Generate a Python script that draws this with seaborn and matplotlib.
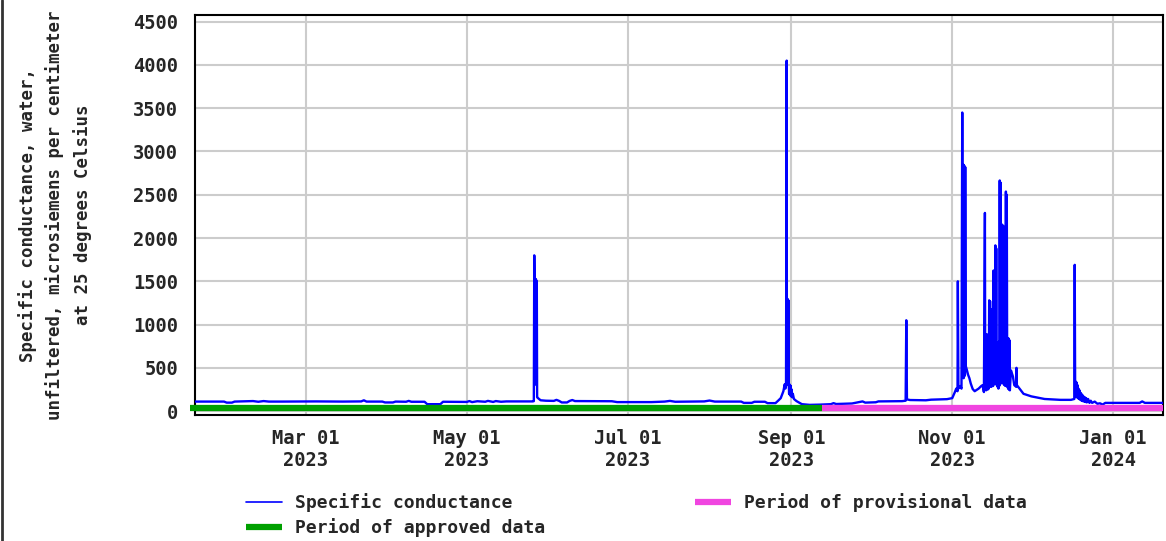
import pandas as pd
import numpy as np
import matplotlib
matplotlib.use('Agg')
import matplotlib.pyplot as plt
import matplotlib.dates as mdates
from matplotlib.lines import Line2D
import seaborn as sns

# --- specific conductance, per period ---
winter_t = ['2023-01-16', '2023-01-29', '2023-01-30', '2023-02-01', '2023-02-02',
            '2023-02-09', '2023-02-11', '2023-02-13', '2023-02-15', '2023-02-20',
            '2023-03-05', '2023-03-15', '2023-03-22', '2023-03-23', '2023-03-24',
            '2023-03-30', '2023-03-31', '2023-04-03', '2023-04-04', '2023-04-08',
            '2023-04-09', '2023-04-10', '2023-04-15', '2023-04-16', '2023-04-21',
            '2023-04-22', '2023-05-01', '2023-05-02', '2023-05-03', '2023-05-05',
            '2023-05-08', '2023-05-09', '2023-05-11', '2023-05-12', '2023-05-14',
            '2023-05-16', '2023-05-26']
winter_v = [110, 110, 98, 98, 110,
            116, 108, 116, 110, 110,
            112, 110, 112, 125, 110,
            110, 100, 100, 110, 108,
            118, 108, 108, 80, 80,
            108, 106, 116, 104, 114,
            108, 118, 106, 116, 108,
            112, 112]

may_t = ['2023-05-26 10:00', '2023-05-26 14:00', '2023-05-26 16:00', '2023-05-26 20:00',
         '2023-05-26 23:00', '2023-05-27 03:00', '2023-05-27 06:00', '2023-05-27 10:00',
         '2023-05-27 13:00', '2023-05-27 16:00', '2023-05-28', '2023-05-29']
may_v = [115, 1800, 1540, 400,
         1530, 500, 1520, 300,
         1500, 160, 150, 125]

summer_t = ['2023-05-31', '2023-06-03', '2023-06-04', '2023-06-05', '2023-06-06',
            '2023-06-08', '2023-06-09', '2023-06-10', '2023-06-11', '2023-06-25',
            '2023-06-27', '2023-07-10', '2023-07-15', '2023-07-17', '2023-07-19',
            '2023-07-30', '2023-08-01', '2023-08-03', '2023-08-13', '2023-08-14',
            '2023-08-17', '2023-08-18', '2023-08-22', '2023-08-23', '2023-08-26',
            '2023-08-27', '2023-08-28', '2023-08-29']
summer_v = [120, 118, 130, 118, 100,
            100, 118, 128, 116, 114,
            104, 104, 110, 118, 108,
            112, 122, 110, 110, 95,
            95, 108, 108, 92, 92,
            120, 150, 230]

august_t = ['2023-08-29 12:00', '2023-08-29 18:00', '2023-08-30 00:00', '2023-08-30 06:00',
            '2023-08-30 08:00', '2023-08-30 10:00', '2023-08-30 13:00', '2023-08-30 16:00',
            '2023-08-30 19:00', '2023-08-30 22:00', '2023-08-31 01:00', '2023-08-31 04:00',
            '2023-08-31 07:00', '2023-08-31 10:00', '2023-08-31 13:00', '2023-08-31 16:00',
            '2023-08-31 19:00', '2023-08-31 22:00', '2023-09-01 03:00', '2023-09-01 08:00',
            '2023-09-01 14:00', '2023-09-02', '2023-09-03', '2023-09-05', '2023-09-08']
august_v = [310, 260, 320, 4050,
            350, 1300, 330, 1290,
            300, 1280, 320, 200,
            310, 190, 300, 180,
            290, 170, 250, 160,
            200, 140, 115, 80, 72]

autumn_t = ['2023-09-12', '2023-09-16', '2023-09-17', '2023-09-18', '2023-09-24',
            '2023-09-26', '2023-09-28', '2023-09-29', '2023-10-03', '2023-10-04',
            '2023-10-13', '2023-10-14 08:00', '2023-10-14 14:00', '2023-10-14 20:00', '2023-10-16',
            '2023-10-22', '2023-10-24', '2023-10-30', '2023-11-01', '2023-11-02']
autumn_v = [75, 80, 92, 82, 88,
            100, 112, 98, 102, 112,
            115, 120, 1050, 135, 128,
            125, 132, 138, 150, 220]

november_t = ['2023-11-02 12:00', '2023-11-03 00:00', '2023-11-03 03:00', '2023-11-03 08:00',
              '2023-11-04 00:00', '2023-11-04 12:00', '2023-11-04 19:00', '2023-11-05 01:00',
              '2023-11-05 04:00', '2023-11-05 07:00', '2023-11-05 10:00', '2023-11-05 13:00',
              '2023-11-05 16:00', '2023-11-05 19:00', '2023-11-05 22:00', '2023-11-06 03:00',
              '2023-11-06 12:00', '2023-11-07 00:00',
              '2023-11-07 12:00', '2023-11-08 00:00', '2023-11-08 18:00', '2023-11-09 12:00',
              '2023-11-10 00:00', '2023-11-11 00:00', '2023-11-12 00:00', '2023-11-12 12:00',
              '2023-11-13 00:00', '2023-11-13 09:00', '2023-11-13 12:00', '2023-11-13 16:00',
              '2023-11-13 20:00', '2023-11-14 00:00', '2023-11-14 04:00', '2023-11-14 08:00',
              '2023-11-14 12:00', '2023-11-14 16:00', '2023-11-14 20:00', '2023-11-15 00:00',
              '2023-11-15 04:00', '2023-11-15 08:00', '2023-11-15 12:00', '2023-11-15 16:00',
              '2023-11-15 20:00', '2023-11-16 00:00', '2023-11-16 04:00', '2023-11-16 08:00',
              '2023-11-16 12:00', '2023-11-16 16:00', '2023-11-16 20:00', '2023-11-17 00:00',
              '2023-11-17 04:00', '2023-11-17 08:00', '2023-11-17 12:00', '2023-11-17 16:00',
              '2023-11-17 20:00', '2023-11-18 00:00', '2023-11-18 04:00', '2023-11-18 08:00',
              '2023-11-18 12:00', '2023-11-18 16:00', '2023-11-18 20:00', '2023-11-19 00:00',
              '2023-11-19 04:00', '2023-11-19 08:00', '2023-11-19 12:00', '2023-11-19 16:00',
              '2023-11-19 20:00', '2023-11-20 00:00', '2023-11-20 04:00', '2023-11-20 08:00',
              '2023-11-20 12:00', '2023-11-20 16:00', '2023-11-20 20:00', '2023-11-21 00:00',
              '2023-11-21 04:00', '2023-11-21 08:00', '2023-11-21 12:00', '2023-11-21 16:00',
              '2023-11-21 20:00', '2023-11-22 00:00', '2023-11-22 04:00', '2023-11-22 08:00',
              '2023-11-22 12:00', '2023-11-22 16:00', '2023-11-22 20:00', '2023-11-23 06:00',
              '2023-11-24 00:00', '2023-11-24 12:00', '2023-11-25 06:00', '2023-11-25 08:00',
              '2023-11-25 12:00', '2023-11-26 12:00', '2023-11-28 00:00', '2023-12-01 00:00',
              '2023-12-06 00:00', '2023-12-12 00:00']
november_v = [260, 230, 1500, 260,
              290, 260, 3450, 420,
              2850, 380, 2840, 400,
              2830, 420, 2820, 520,
              480, 420,
              380, 320, 255, 230,
              240, 260, 290, 300,
              220, 2290, 250, 890,
              240, 880, 260, 870,
              250, 890, 260, 1280,
              280, 1270, 300, 1175,
              280, 1170, 300, 1160,
              290, 1625, 320, 1600,
              330, 1915, 350, 1880,
              300, 720, 280, 760,
              260, 800, 290, 2665,
              330, 2640, 320, 2160,
              340, 2150, 330, 2140,
              310, 2115, 300, 2100,
              290, 2537, 300, 2500,
              280, 845, 260, 840,
              250, 820, 240, 470,
              400, 300, 280, 500,
              300, 260, 200, 170,
              140, 130]

december_t = ['2023-12-16 00:00', '2023-12-17 06:00', '2023-12-17 10:00', '2023-12-17 14:00',
              '2023-12-17 20:00', '2023-12-18 00:00', '2023-12-18 04:00', '2023-12-18 08:00',
              '2023-12-18 12:00', '2023-12-18 16:00', '2023-12-18 20:00', '2023-12-19 00:00',
              '2023-12-19 06:00', '2023-12-19 12:00', '2023-12-19 18:00', '2023-12-20 00:00',
              '2023-12-20 06:00', '2023-12-20 12:00', '2023-12-20 18:00', '2023-12-21 00:00',
              '2023-12-21 06:00', '2023-12-21 12:00', '2023-12-21 18:00', '2023-12-22 00:00',
              '2023-12-22 12:00', '2023-12-23 00:00', '2023-12-23 12:00', '2023-12-24 00:00',
              '2023-12-25 00:00', '2023-12-26 00:00', '2023-12-27 00:00', '2023-12-28 00:00',
              '2023-12-29 00:00', '2024-01-05 00:00', '2024-01-11 00:00', '2024-01-12 00:00',
              '2024-01-13 00:00', '2024-01-20 00:00']
december_v = [130, 140, 1690, 200,
              340, 160, 330, 170,
              300, 150, 260, 140,
              240, 130, 210, 120,
              190, 115, 170, 110,
              160, 105, 150, 100,
              140, 95, 120, 95,
              110, 85, 90, 75,
              95, 95, 95, 112,
              95, 95]

# data-approval periods
approved_period = ['2023-01-16', '2023-09-12 12:00']
provisional_period = ['2023-09-12 12:00', '2024-01-19 21:00']

x_ticks = ['2023-03-01', '2023-05-01', '2023-07-01', '2023-09-01', '2023-11-01', '2024-01-01']
y_ticks = [0, 500, 1000, 1500, 2000, 2500, 3000, 3500, 4000, 4500]

ylabel = ('Specific conductance, water,\n'
          'unfiltered, microsiemens per centimeter\n'
          'at 25 degrees Celsius')

# --- assemble ---
times = winter_t + may_t + summer_t + august_t + autumn_t + november_t + december_t
values = winter_v + may_v + summer_v + august_v + autumn_v + november_v + december_v
assert len(times) == len(values)
df = pd.DataFrame({'time': pd.to_datetime(times, format='ISO8601'), 'value': values})

sns.set_style('white')
plt.rcParams['font.family'] = ['DejaVu Sans Mono', 'DejaVu Sans']
plt.rcParams['path.simplify'] = False  # keep every up/down swing of the storm spikes

W, H = 1166, 541
fig = plt.figure(figsize=(W / 100, H / 100), dpi=100)
ax = fig.add_axes([195 / W, 1 - 415 / H, 968 / W, 400 / H])

sns.lineplot(data=df, x='time', y='value', ax=ax, color='#0000ff', lw=1.7,
             estimator=None, sort=False, legend=False, zorder=3)

green, pink = '#00a000', '#f045e0'
ax.plot(pd.to_datetime(approved_period, format='ISO8601'), [40, 40], color=green, lw=4.5,
        solid_capstyle='butt', clip_on=False, zorder=4)
ax.plot(pd.to_datetime(provisional_period, format='ISO8601'), [40, 40], color=pink, lw=4.5,
        solid_capstyle='butt', clip_on=False, zorder=4)

ax.set_xlim(pd.Timestamp('2023-01-18'), pd.Timestamp('2024-01-19 21:00'))
ax.set_ylim(-45, 4577)
ax.set_xticks(pd.to_datetime(x_ticks))
ax.xaxis.set_major_formatter(mdates.DateFormatter('%b %d\n%Y'))
ax.set_yticks(y_ticks)

ax.grid(True, color='#cccccc', lw=1.5, zorder=0)
ax.set_axisbelow(True)
for s in ax.spines.values():
    s.set_color('black')
    s.set_linewidth(1.5)

ax.tick_params(axis='x', length=0, labelsize=13.5, pad=10)
ax.tick_params(axis='y', length=0, labelsize=13.5, pad=12)
for lab in ax.get_xticklabels() + ax.get_yticklabels():
    lab.set_fontweight('bold')
ax.set_xlabel('')
ax.set_ylabel(ylabel, fontsize=12.5, linespacing=1.55, fontweight='bold')
ax.yaxis.label.set_rotation_mode('default')
ax.yaxis.label.set_ha('center')
ax.yaxis.label.set_va('center')
ax.yaxis.set_label_coords((55 - 195) / 968, 0.5)

# legend below the plot, two columns
h_cond = Line2D([], [], color='#0000ff', lw=1.2)
h_appr = Line2D([], [], color=green, lw=4.5, solid_capstyle='butt')
h_prov = Line2D([], [], color=pink, lw=4.5, solid_capstyle='butt')
leg_kw = dict(frameon=False, loc='upper left', borderpad=0, borderaxespad=0,
              handlelength=2.0, handletextpad=0.7, labelspacing=0.35,
              prop={'family': 'DejaVu Sans Mono', 'size': 13, 'weight': 'bold'})
leg1 = fig.legend([h_cond, h_appr], ['Specific conductance', 'Period of approved data'],
                  bbox_to_anchor=(246 / W, 1 - 493 / H), **leg_kw)
leg2 = fig.legend([h_prov], ['Period of provisional data'],
                  bbox_to_anchor=(695 / W, 1 - 493 / H), **leg_kw)

# left border of the figure
fig.add_artist(Line2D([0.0015, 0.0015], [0, 1], transform=fig.transFigure,
                      color='#333333', lw=2))

fig.savefig('out.png', dpi=100)
